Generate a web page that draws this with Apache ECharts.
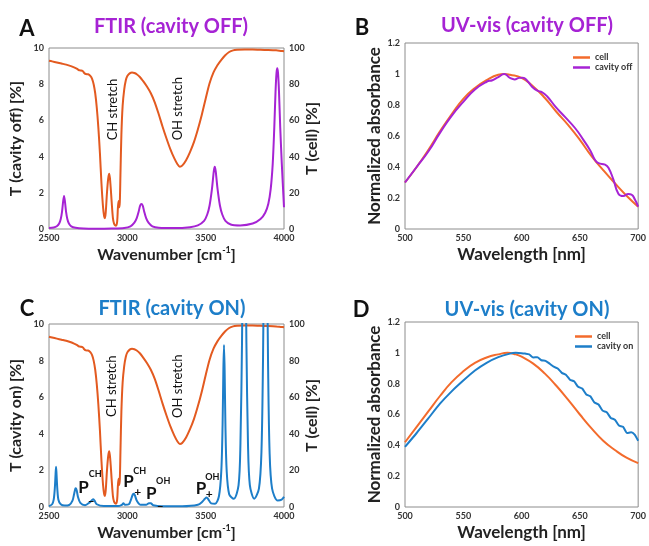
<!DOCTYPE html>
<html><head><meta charset="utf-8">
<script src="https://cdn.jsdelivr.net/npm/echarts@6/dist/echarts.min.js"></script>
<style>html,body{margin:0;padding:0;background:#fff}#c{width:649px;height:546px}</style>
</head><body><div id="c"></div>
<script>
// ---------- DATA ----------
// FTIR transmission of the cell [wavenumber cm-1, T %] (right axis)
const ftirCell = [[2500,93],[2520,92.6],[2550,92],[2580,91.4],[2610,90.8],[2640,90],[2660,89.3],[2680,88.5],[2690,87.8],[2700,87.6],[2715,87.3],[2725,86.2],[2735,85.6],[2750,85.5],[2765,84.5],[2775,83],[2785,80],[2795,75],[2805,67],[2815,56],[2825,42],[2835,25],[2845,12],[2852,7],[2857,6],[2862,9],[2870,20],[2878,28],[2885,30.5],[2892,25],[2900,15],[2908,6],[2915,3],[2922,2],[2928,1.8],[2935,4],[2940,12],[2944,15.5],[2948,12],[2952,15],[2956,30],[2962,52],[2970,68],[2980,77],[2990,82],[3000,84.5],[3015,86],[3030,86.5],[3045,86.2],[3060,85.5],[3080,84],[3100,81.8],[3125,78.7],[3150,75],[3175,70],[3200,63.5],[3225,56.5],[3250,50],[3275,44],[3300,39],[3320,35.8],[3335,34.4],[3350,35],[3375,38],[3400,42.5],[3425,48],[3450,55],[3475,63],[3500,72],[3525,80.5],[3550,86.5],[3575,90.5],[3600,93.5],[3625,96],[3650,97.8],[3675,98.7],[3700,99],[3750,99.2],[3800,99.2],[3850,99],[3900,98.9],[3950,98.7],[3980,98.4],[4000,98.2]];
// FTIR transmission, cavity off [wavenumber, T %] (left axis)
const ftirCavityOff = [[2500,0.05],[2530,0.08],[2550,0.15],[2565,0.3],[2575,0.55],[2583,0.95],[2590,1.5],[2596,1.82],[2602,1.5],[2609,0.95],[2617,0.55],[2627,0.3],[2642,0.15],[2670,0.07],[2720,0.03],[2800,0.02],[2900,0.03],[2980,0.06],[3020,0.15],[3045,0.35],[3060,0.6],[3072,0.95],[3082,1.3],[3090,1.38],[3098,1.3],[3108,0.95],[3120,0.6],[3135,0.35],[3160,0.15],[3200,0.07],[3300,0.05],[3400,0.1],[3450,0.2],[3490,0.45],[3510,0.8],[3525,1.3],[3540,2.2],[3552,3.2],[3558,3.44],[3564,3.2],[3576,2.2],[3591,1.3],[3606,0.8],[3626,0.45],[3660,0.25],[3720,0.2],[3800,0.3],[3850,0.55],[3880,0.9],[3900,1.4],[3915,2.2],[3928,3.6],[3938,5.6],[3946,7.6],[3952,8.6],[3957,8.88],[3962,8.6],[3968,7.6],[3976,5.6],[3986,3.6],[4000,1.2]];
// FTIR transmission, cavity on [wavenumber, T %] (left axis)
const ftirCavityOn = [[2500,0.05],[2520,0.15],[2530,0.4],[2537,1.0],[2542,1.8],[2545,2.2],[2548,1.8],[2553,1.0],[2560,0.4],[2575,0.15],[2600,0.08],[2630,0.12],[2650,0.35],[2660,0.7],[2668,1.0],[2672,1.02],[2677,0.9],[2685,0.55],[2700,0.22],[2730,0.1],[2760,0.25],[2775,0.38],[2783,0.42],[2791,0.35],[2805,0.15],[2850,0.05],[2940,0.05],[2965,0.12],[2975,0.2],[2985,0.12],[3010,0.15],[3025,0.45],[3035,0.68],[3042,0.72],[3050,0.6],[3060,0.35],[3085,0.12],[3120,0.12],[3138,0.2],[3150,0.2],[3165,0.1],[3220,0.04],[3350,0.04],[3450,0.12],[3480,0.3],[3495,0.45],[3506,0.52],[3515,0.45],[3535,0.2],[3560,0.18],[3585,0.6],[3600,2.0],[3608,4.5],[3613,7.5],[3617,8.85],[3621,7.5],[3626,4.5],[3634,2.0],[3650,0.7],[3680,0.45],[3710,1.2],[3722,3.5],[3732,9],[3738,14],[3746,16],[3754,14],[3760,9],[3770,3.5],[3782,1.2],[3810,0.45],[3840,1.0],[3856,3.0],[3866,8],[3872,13],[3882,16],[3892,13],[3898,8],[3908,3.0],[3924,1.0],[3960,0.35],[3985,0.4],[4000,0.56]];
// UV-vis normalized absorbance [wavelength nm, A]
const uvCellOff = [[500,0.30],[510,0.40],[520,0.51],[530,0.63],[540,0.74],[550,0.84],[560,0.91],[570,0.96],[580,0.995],[585,1.0],[590,0.995],[600,0.975],[610,0.92],[620,0.845],[630,0.755],[640,0.67],[650,0.575],[660,0.47],[670,0.38],[680,0.295],[690,0.215],[700,0.144]];
const uvCavityOff = [[500,0.30],[510,0.40],[520,0.50],[530,0.62],[540,0.73],[550,0.82],[560,0.90],[570,0.95],[575,0.96],[580,0.98],[585,1.0],[590,0.975],[594,0.965],[598,0.975],[601,0.976],[605,0.955],[609,0.918],[613.5,0.892],[617.7,0.882],[622,0.855],[629,0.79],[637.6,0.72],[646,0.65],[653,0.575],[659,0.505],[663,0.445],[666,0.425],[671.6,0.415],[674.5,0.395],[678.7,0.32],[683,0.228],[687.2,0.213],[691.5,0.226],[694.3,0.222],[697.2,0.19],[700,0.144]];
const uvCellOn = [[500,0.42],[510,0.52],[520,0.62],[530,0.72],[540,0.81],[550,0.88],[560,0.935],[570,0.97],[580,0.99],[588,1.0],[595,0.99],[600,0.975],[610,0.93],[620,0.865],[630,0.785],[640,0.695],[650,0.6],[660,0.51],[670,0.43],[680,0.37],[690,0.32],[700,0.285]];
const uvCavityOn = [[500,0.39],[510,0.48],[520,0.575],[530,0.67],[540,0.75],[550,0.82],[560,0.885],[570,0.935],[580,0.972],[590,0.995],[595,1.0],[600,0.998],[603,0.995],[606.5,0.99],[610,0.97],[613.5,0.972],[617,0.952],[620.5,0.948],[624,0.93],[627.5,0.91],[631,0.898],[634.5,0.87],[638,0.858],[641.5,0.826],[645,0.815],[648.5,0.78],[652,0.768],[655.5,0.73],[659,0.718],[662.5,0.678],[666,0.665],[669.5,0.625],[673,0.615],[676.5,0.578],[680,0.566],[683.5,0.528],[687,0.52],[690.5,0.48],[694,0.485],[697,0.47],[700,0.43]];

const panelLetters = ['A','B','C','D'];
const panelTitles = ['FTIR (cavity OFF)','UV-vis (cavity OFF)','FTIR (cavity ON)','UV-vis (cavity ON)'];

// ---------- STYLE ----------
const FONT = 'Lato';
const ORANGE_IR = '#E35A20', ORANGE_UV = '#F36B2C', PURPLE = '#A623D4', BLUE = '#1D7EC9';
const tickLbl = {fontFamily: FONT, fontSize: 9, fontWeight: 'bold', color: '#333', formatter: v => String(v)};
const nameStyle = (sz) => ({fontFamily: FONT, fontSize: sz, fontWeight: 'bold', color: '#222',
  rich: {a: {fontFamily: FONT, fontSize: sz, fontWeight: 'bold', color: '#222'},
         s: {fontFamily: FONT, fontSize: 9, fontWeight: 'bold', color: '#222', verticalAlign: 'top', lineHeight: 18}}});

function xAx(grid, min, max, interval, name, sz) {
  return {type: 'value', gridIndex: grid, min, max, interval, name, nameLocation: 'middle', nameGap: 17, nameMoveOverlap: false,
    nameTextStyle: nameStyle(sz), axisLine: {show: false}, axisTick: {show: false}, splitLine: {show: false},
    axisLabel: Object.assign({margin: 5}, tickLbl)};
}
function yAx(grid, min, max, interval, name, pos, gap, sz) {
  return {type: 'value', gridIndex: grid, min, max, interval, name, position: pos, nameLocation: 'middle', nameGap: gap,
    nameMoveOverlap: false, nameRotate: 90, nameTextStyle: nameStyle(sz), axisLine: {show: false}, axisTick: {show: false},
    splitLine: {show: false}, axisLabel: Object.assign({margin: 5}, tickLbl)};
}
const mp = (coord, text, extra) => ({coord, label: Object.assign({show: true, formatter: text, position: 'inside',
  fontFamily: FONT, color: '#111'}, extra)});

const chart = echarts.init(document.getElementById('c'), null, {renderer: 'canvas'});
const gridBox = {show: true, borderColor: '#8c8c8c', borderWidth: 1, backgroundColor: 'transparent'};
const pBig = {fontSize: 17, fontWeight: 'bold'}, pSup = {fontSize: 9, fontWeight: 'bold'}, pSub = {fontSize: 12, fontWeight: 'bold'};
chart.setOption({
  animation: false,
  title: panelTitles.map((t, i) => ({text: t, left: [166, 522, 167, 522][i], top: [12, 11, 294, 295][i], textAlign: 'center',
     textStyle: {fontFamily: FONT, fontSize: 20, fontWeight: 'bold', color: [PURPLE, PURPLE, BLUE, BLUE][i]}}))
    .concat(panelLetters.map((t, i) => ({text: t, left: [22, 357, 22, 356][i], top: [13, 12, 293, 294][i], textAlign: 'center',
     textStyle: {fontFamily: FONT, fontSize: 22, fontWeight: 'bold', color: '#111'}}))),
  grid: [
    Object.assign({left: 49, top: 48, width: 235, height: 181}, gridBox),
    Object.assign({left: 405, top: 43, width: 235, height: 186}, gridBox),
    Object.assign({left: 49, top: 324, width: 235, height: 183}, gridBox),
    Object.assign({left: 405, top: 322, width: 235, height: 185}, gridBox)
  ],
  xAxis: [
    xAx(0, 2500, 4000, 500, '{a|Wavenumber [cm}{s|-1}{a|]}', 16),
    xAx(1, 500, 700, 50, 'Wavelength [nm]', 17),
    xAx(2, 2500, 4000, 500, '{a|Wavenumber [cm}{s|-1}{a|]}', 16),
    xAx(3, 500, 700, 50, 'Wavelength [nm]', 17)
  ],
  yAxis: [
    yAx(0, 0, 10, 2, 'T (cavity off) [%]', 'left', 25, 16),
    yAx(0, 0, 100, 20, 'T (cell) [%]', 'right', 20, 16),
    yAx(1, 0, 1.2, 0.2, 'Normalized absorbance', 'left', 22, 17),
    yAx(2, 0, 10, 2, 'T (cavity on) [%]', 'left', 25, 16),
    yAx(2, 0, 100, 20, 'T (cell) [%]', 'right', 20, 16),
    yAx(3, 0, 1.2, 0.2, 'Normalized absorbance', 'left', 22, 17)
  ],
  legend: [
    {data: ['cell', 'cavity off'], left: 568, top: 48, orient: 'vertical', itemWidth: 17, itemHeight: 2.5, itemGap: 1, icon: 'rect',
     textStyle: {fontFamily: FONT, fontSize: 9, fontWeight: 'bold', color: '#333', lineHeight: 9}},
    {data: ['cell ', 'cavity on'], left: 570, top: 327, orient: 'vertical', itemWidth: 17, itemHeight: 2.5, itemGap: 1, icon: 'rect',
     textStyle: {fontFamily: FONT, fontSize: 9, fontWeight: 'bold', color: '#333', lineHeight: 9}, formatter: n => n.trim()}
  ],
  series: [
    {type: 'line', name: 'ftir cell A', xAxisIndex: 0, yAxisIndex: 1, data: ftirCell, showSymbol: false, smooth: 0.3,
     lineStyle: {color: ORANGE_IR, width: 2}, itemStyle: {color: ORANGE_IR},
     markPoint: {symbol: 'circle', symbolSize: 0, data: [
       mp([2905, 66], 'CH stretch', {rotate: 90, fontSize: 13}),
       mp([3323, 66.5], 'OH stretch', {rotate: 90, fontSize: 13})]}},
    {type: 'line', name: 'ftir off', xAxisIndex: 0, yAxisIndex: 0, data: ftirCavityOff, showSymbol: false, smooth: 0.3,
     lineStyle: {color: PURPLE, width: 2}, itemStyle: {color: PURPLE}},
    {type: 'line', name: 'cell', xAxisIndex: 1, yAxisIndex: 2, data: uvCellOff, showSymbol: false, smooth: true,
     lineStyle: {color: ORANGE_UV, width: 2}, itemStyle: {color: ORANGE_UV}},
    {type: 'line', name: 'cavity off', xAxisIndex: 1, yAxisIndex: 2, data: uvCavityOff, showSymbol: false, smooth: true,
     lineStyle: {color: PURPLE, width: 2}, itemStyle: {color: PURPLE}},
    {type: 'line', name: 'ftir cell C', xAxisIndex: 2, yAxisIndex: 4, data: ftirCell, showSymbol: false, smooth: 0.3,
     lineStyle: {color: ORANGE_IR, width: 2}, itemStyle: {color: ORANGE_IR},
     markPoint: {symbol: 'circle', symbolSize: 0, data: [
       mp([2902, 66], 'CH stretch', {rotate: 90, fontSize: 13}),
       mp([3323, 66], 'OH stretch', {rotate: 90, fontSize: 13})]}},
    {type: 'line', name: 'ftir on', xAxisIndex: 2, yAxisIndex: 3, data: ftirCavityOn, showSymbol: false, smooth: 0.3,
     lineStyle: {color: BLUE, width: 2}, itemStyle: {color: BLUE},
     markPoint: {symbol: 'circle', symbolSize: 0, data: [
       mp([2721, 1.07], 'P', pBig), mp([2795, 1.8], 'CH', pSup), mp([2770, 0.3], '\u2013', pSub),
       mp([3008, 1.38], 'P', pBig), mp([3079, 1.97], 'CH', pSup), mp([3066, 0.8], '+', pSub),
       mp([3153, 0.74], 'P', pBig), mp([3229, 1.42], 'OH', pSup), mp([3210, 0.05], '\u2013', pSub),
       mp([3470, 1.01], 'P', pBig), mp([3542, 1.61], 'OH', pSup), mp([3523, 0.68], '+', pSub)]}},
    {type: 'line', name: 'cell ', xAxisIndex: 3, yAxisIndex: 5, data: uvCellOn, showSymbol: false, smooth: true,
     lineStyle: {color: ORANGE_UV, width: 2}, itemStyle: {color: ORANGE_UV}},
    {type: 'line', name: 'cavity on', xAxisIndex: 3, yAxisIndex: 5, data: uvCavityOn, showSymbol: false, smooth: 0.2,
     lineStyle: {color: BLUE, width: 2}, itemStyle: {color: BLUE}}
  ]
});
</script></body></html>
